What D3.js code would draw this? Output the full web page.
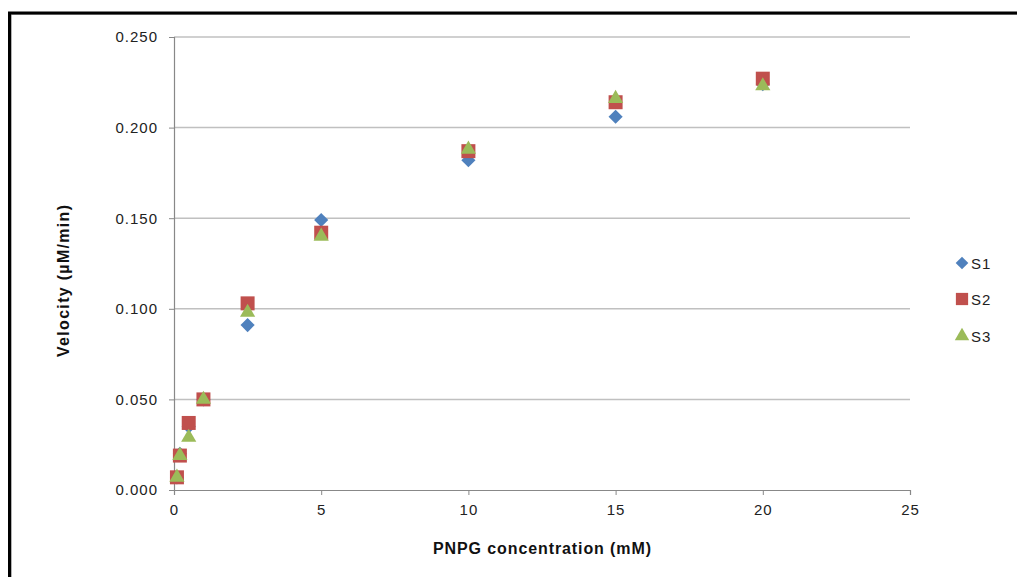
<!DOCTYPE html>
<html><head><meta charset="utf-8">
<script src="https://cdn.jsdelivr.net/npm/d3@7"></script>
<style>
html,body{margin:0;padding:0;background:#fff;}
text{font-family:"Liberation Sans",Arial,sans-serif;}
</style></head>
<body><svg id="c" width="1017" height="577"></svg>
<script>
const concentrations = [0.1, 0.2, 0.5, 1, 2.5, 5, 10, 15, 20];
const s1 = [0.007, 0.020, 0.035, 0.050, 0.091, 0.149, 0.182, 0.206, 0.224];
const s2 = [0.007, 0.019, 0.037, 0.050, 0.103, 0.142, 0.187, 0.214, 0.227];
const s3 = [0.007, 0.019, 0.029, 0.050, 0.098, 0.140, 0.188, 0.216, 0.223];
const seriesNames = ["S1", "S2", "S3"];
const xTicks = [0, 5, 10, 15, 20, 25];
const yTicks = [0, 0.05, 0.10, 0.15, 0.20, 0.25];
const colors = ["#4F81BD", "#C0504D", "#9BBB59"];
const symbols = [d3.symbolSquare, d3.symbolSquare, d3.symbolTriangle];
const rotations = [45, 0, 0];

const svg = d3.select("#c");
// frame
svg.append("rect").attr("x", 11).attr("y", 14).attr("width", 1010).attr("height", 570)
  .attr("fill", "none").attr("stroke", "#999").attr("stroke-width", 1.5);
svg.append("rect").attr("x", 9.5).attr("y", 13).attr("width", 1010).attr("height", 570)
  .attr("fill", "none").attr("stroke", "#000").attr("stroke-width", 3);

const x = d3.scaleLinear().domain([0, 25]).range([174, 910]);
const y = d3.scaleLinear().domain([0, 0.25]).range([490, 37]);

// gridlines
svg.append("g").selectAll("line").data(yTicks.slice(1)).join("line")
  .attr("x1", x(0)).attr("x2", x(25))
  .attr("y1", d => y(d)).attr("y2", d => y(d))
  .attr("stroke", "#c0c0c0").attr("stroke-width", 1.5);

// axes
const yAxis = d3.axisLeft(y).tickValues(yTicks).tickFormat(d3.format(".3f")).tickSize(5).tickPadding(11);
const gy = svg.append("g").attr("transform", `translate(${x(0)},0)`).call(yAxis);
const xAxis = d3.axisBottom(x).tickValues(xTicks).tickFormat(d3.format("d")).tickSize(5).tickPadding(9);
const gx = svg.append("g").attr("transform", `translate(0,${y(0)})`).call(xAxis);
[gx, gy].forEach(g => {
  g.select(".domain").attr("stroke", "#888").attr("stroke-width", 1.2);
  g.selectAll(".tick line").attr("stroke", "#888");
  g.selectAll(".tick text").attr("fill", "#222").style("font-size", "15px")
   .style("letter-spacing", "1px")
   .style("font-family", '"Liberation Sans",Arial,sans-serif');
});

// axis titles
svg.append("text").attr("x", 542).attr("y", 554).attr("text-anchor", "middle")
  .style("font-size", "16px").style("font-weight", "bold").attr("fill", "#111")
  .attr("textLength", 218).attr("lengthAdjust", "spacing")
  .text("PNPG concentration (mM)");
svg.append("text").attr("transform", "translate(69,281) rotate(-90)").attr("text-anchor", "middle")
  .style("font-size", "16px").style("font-weight", "bold").attr("fill", "#111")
  .attr("textLength", 152).attr("lengthAdjust", "spacing")
  .text("Velocity (µM/min)");

// points
const allSeries = [s1, s2, s3];
const sizes = [100, 196, 100];
allSeries.forEach((vals, i) => {
  svg.append("g").selectAll("path").data(vals).join("path")
    .attr("transform", (d, j) => `translate(${x(concentrations[j])},${y(d)}) rotate(${rotations[i]})`)
    .attr("d", d3.symbol().type(symbols[i]).size(sizes[i]))
    .attr("fill", colors[i]);
});

// legend
const legY = [263, 299, 336];
const legSizes = [80, 150, 90];
seriesNames.forEach((n, i) => {
  svg.append("path").attr("transform", `translate(962,${legY[i]}) rotate(${rotations[i]})`)
    .attr("d", d3.symbol().type(symbols[i]).size(legSizes[i])).attr("fill", colors[i]);
  svg.append("text").attr("x", 971).attr("y", legY[i] + 6).style("font-size", "15px")
    .style("letter-spacing", "1px")
    .attr("fill", "#222").text(n);
});
</script></body></html>
